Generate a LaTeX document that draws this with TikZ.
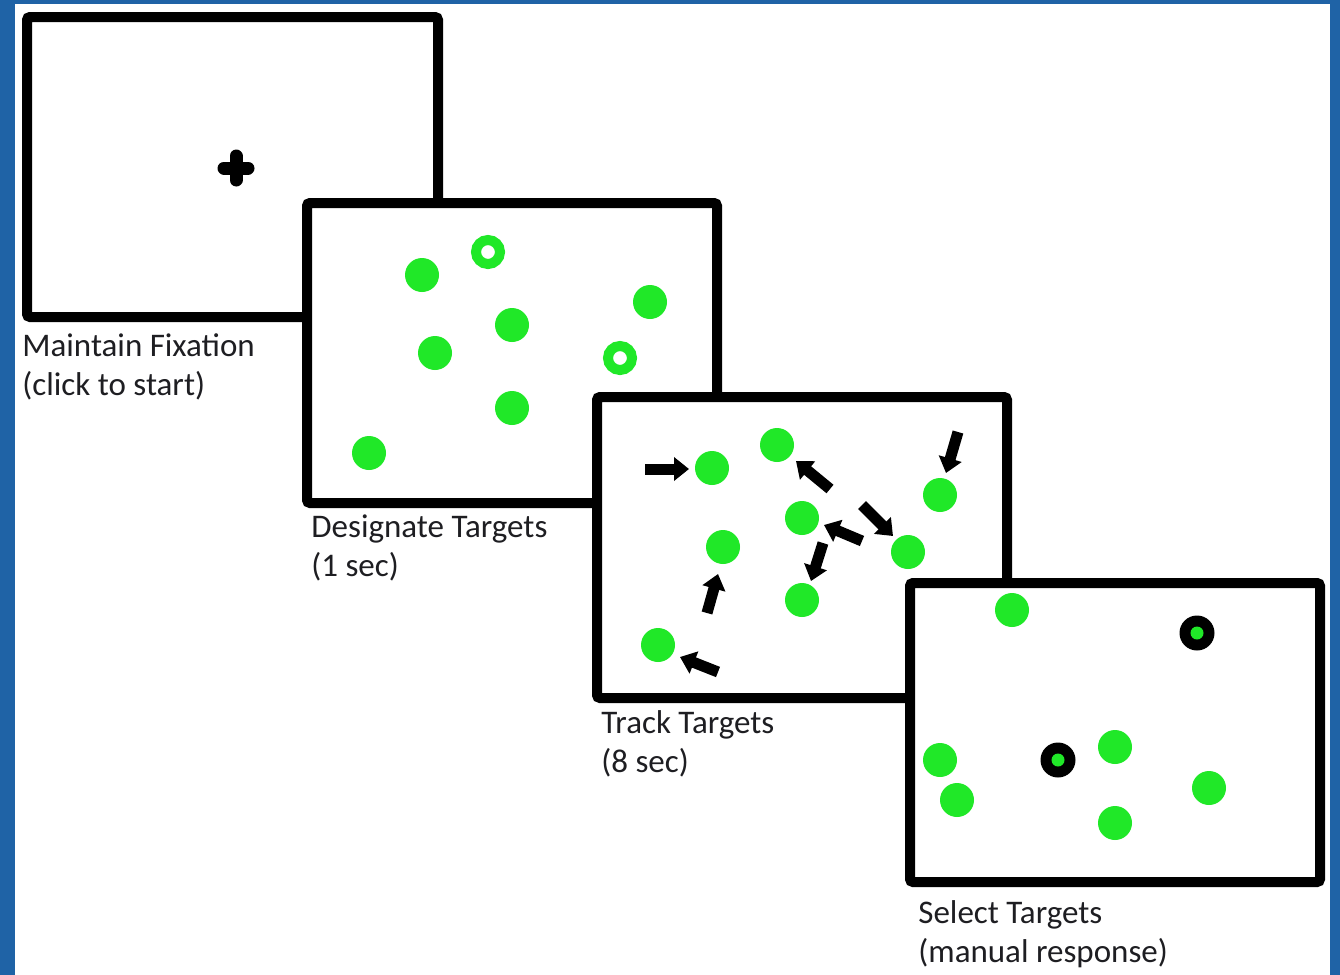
\documentclass[tikz,border=0pt]{standalone}
\usepackage{fontspec}
\setmainfont{Carlito}
\usetikzlibrary{arrows.meta}
\definecolor{edge}{RGB}{31,99,166}
\definecolor{dotgreen}{RGB}{32,232,40}
\definecolor{ink}{RGB}{30,30,34}

\begin{document}
\begin{tikzpicture}[x=0.5pt,y=-0.5pt,
  scr/.style={draw=black,fill=white,line width=5pt,rounded corners=1.5pt},
  dt/.style={fill=dotgreen},
  ring/.style={draw=dotgreen,line width=5pt},
  mv/.style={draw=black,line width=5.5pt,-{Triangle[length=7.5pt,width=11.5pt]}},
  lab/.style={font=\fontsize{16.5}{19.5}\selectfont,text=ink,align=left,anchor=base west,inner sep=0pt}]
  % frame and margins
  \fill[edge] (0,0) rectangle (1340,975);
  \fill[white] (15,4) rectangle (1330,975);
  \useasboundingbox (0,0) rectangle (1340,975);
  % (1) fixation cross
  \draw[scr] (27,17) rectangle (438,317);
  \draw[line width=6.5pt,line cap=round] (224,168) -- (248,168) (236,156) -- (236,180);
  \node[lab] (fix) at (22,395) {Maintain Fixation\\(click to start)};
  % (2) targets shown as rings
  \draw[scr] (307,203) rectangle (717,503);
  \foreach \x/\y in {422/275,650/302,512/325,435/353,512/408,369/453}
    \fill[dt] (\x,\y) circle (17);
  \foreach \x/\y in {488/252,620/358}
    \draw[ring] (\x,\y) circle (12);
  \node[lab] (des) at (311,576) {Designate Targets\\(1 sec)};
  % (3) all dots move
  \draw[scr] (597,397) rectangle (1007,698);
  \foreach \x/\y in {712/468,777/445,802/518,940/495,908/552,723/547,802/600,658/645}
    \fill[dt] (\x,\y) circle (17);
  \foreach \a/\b/\c/\d in {645/469/689/469, 830/489/796/461, 958/432/946/473, 862/505/893/536,
                           862/541/824/525, 823/543/811/581, 707/613/718/574, 718/672/680/657}
    \draw[mv] (\a,\b) -- (\c,\d);
  \node[lab] (trk) at (601,772) {Track Targets\\(8 sec)};
  % (4) picked dots
  \draw[scr] (910,583) rectangle (1320,882);
  \foreach \x/\y in {1012/610,940/760,1115/747,957/800,1115/823,1209/788}
    \fill[dt] (\x,\y) circle (17);
  \foreach \x/\y in {1197/633,1058/760} {
    \fill[black] (\x,\y) circle (17.5);
    \fill[dt] (\x,\y) circle (6.5);
  }
  \node[lab] (sel) at (918,962) {Select Targets\\(manual response)};
\end{tikzpicture}
\end{document}
